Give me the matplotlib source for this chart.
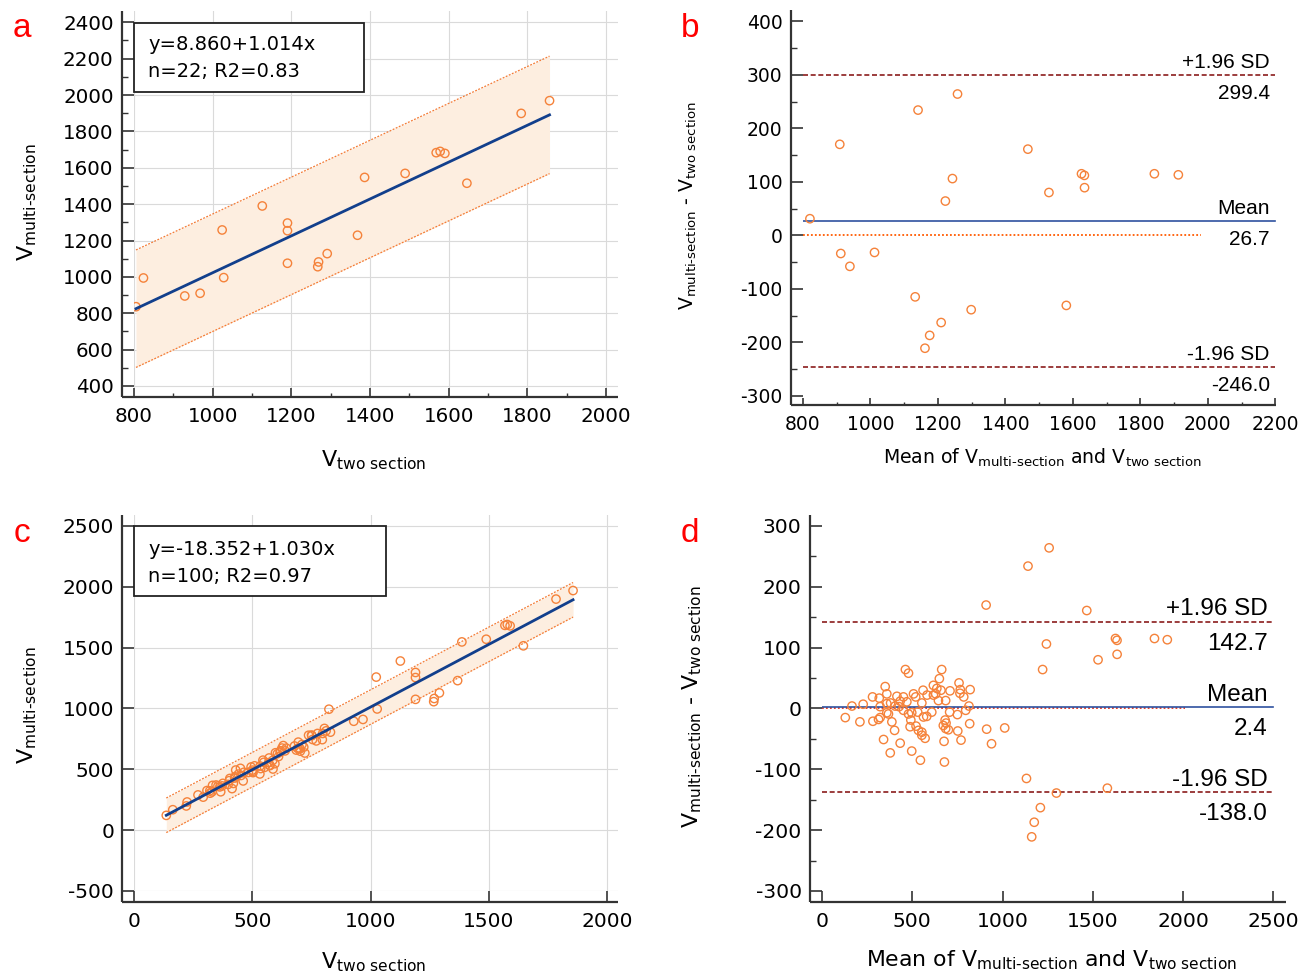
import numpy as np
import matplotlib
matplotlib.use("Agg")
import matplotlib.pyplot as plt
from matplotlib.patches import Rectangle
from matplotlib.lines import Line2D
from matplotlib.ticker import MultipleLocator, NullLocator

plt.rcParams['font.family'] = ['DejaVu Sans']
plt.rcParams['mathtext.fontset'] = 'custom'
plt.rcParams['mathtext.rm'] = 'DejaVu Sans'
plt.rcParams['mathtext.it'] = 'DejaVu Sans:italic'
plt.rcParams['mathtext.bf'] = 'DejaVu Sans:bold'
plt.rcParams['axes.unicode_minus'] = False

# ---------------- data ----------------
# 22 paired measurements (panel a / b)
v_two_22 = [805, 824, 929, 968, 1024, 1028, 1126, 1190, 1190, 1190, 1267,
            1269, 1291, 1368, 1386, 1489, 1568, 1578, 1590, 1646, 1784, 1856]
v_multi_22 = [836, 994, 895, 910, 1258, 996, 1390, 1296, 1254, 1075, 1056,
              1082, 1128, 1229, 1547, 1569, 1683, 1690, 1679, 1515, 1899, 1969]

extra_mean = [462, 479, 663, 650, 350, 359, 280, 317, 228, 166,
              415, 451, 380, 433, 507, 519, 560, 582, 553, 617,
              630, 645, 659, 685, 709, 759, 766, 785,
              814, 796, 322, 129, 210, 282, 313, 322, 359, 387,
              402, 341, 378, 433, 451, 497, 492, 488, 521, 497,
              553, 571, 562, 580, 545, 682, 672, 685, 700, 676,
              678, 750, 707, 752, 770, 818,
              636, 764, 617, 687, 534, 553, 368, 359, 427, 479,
              405, 470, 530, 608]
extra_diff = [64, 58, 64, 49, 36, 24, 19, 17, 7, 4,
              20, 19, 9, 12, 24, 19, 30, 22, 9, 38,
              24, 13, 30, 13, 29, 42, 31, 19,
              4, -3, 3, -15, -22, -21, -18, -15, -7, -22,
              -36, -51, -73, -57, -3, -7, -19, -30, -29, -70,
              -39, -49, -14, -13, -85, -19, -28, -33, -35, -54,
              -88, -10, -6, -37, -52, -25,
              33, 25, 22, -24, -36, -44, -9, 8, 3, -9,
              4, 11, -6, -6]

# regression results
fit_a = [8.860, 1.014]
fit_c = [-18.352, 1.030]
band_a = 323
band_c = 142
text_a = ["y=8.860+1.014x", "n=22; R2=0.83"]
text_c = ["y=-18.352+1.030x", "n=100; R2=0.97"]

# Bland-Altman limits: mean, +1.96SD, -1.96SD
ba_b = [26.7, 299.4, -246.0]
ba_d = [2.4, 142.7, -138.0]
zero_end_b = 1980
zero_end_d = 2010

# ---------------- derived ----------------
v_two_22 = np.array(v_two_22, float)
v_multi_22 = np.array(v_multi_22, float)
em = np.array(extra_mean, float)
ed = np.array(extra_diff, float)
v_two_100 = np.concatenate([v_two_22, em - ed / 2])
v_multi_100 = np.concatenate([v_multi_22, em + ed / 2])

# ---------------- style ----------------
W, H = 1309, 977
fig = plt.figure(figsize=(W / 100, H / 100), dpi=100)

C_PT = '#F5823A'
C_FIT = '#123F8C'
C_BAND = '#FDEEE0'
C_BANDL = '#F47B35'
C_SD = '#8B1C1C'
C_MEAN = '#2F52A0'
C_AX = '#333333'
ARIAL = ['Liberation Sans', 'DejaVu Sans']


def fx(x):
    return x / W


def fy(y):
    return 1 - y / H


def add_ax(l, r, t, b):
    return fig.add_axes([l / W, 1 - b / H, (r - l) / W, (b - t) / H])


def style(ax, xlim, ylim, xmaj, ymaj, xmin, ymin, offl, offb, lsize,
          box, grid):
    ax.set_xlim(xlim)
    ax.set_ylim(ylim)
    for s in ax.spines.values():
        s.set_visible(False)
    ax.spines['left'].set_position(('outward', offl * 0.72))
    ax.spines['bottom'].set_position(('outward', offb * 0.72))
    ax.xaxis.set_major_locator(MultipleLocator(xmaj))
    ax.yaxis.set_major_locator(MultipleLocator(ymaj))
    ax.xaxis.set_minor_locator(MultipleLocator(xmin) if xmin else NullLocator())
    ax.yaxis.set_minor_locator(MultipleLocator(ymin) if ymin else NullLocator())
    ax.tick_params(axis='y', which='major', direction='in', length=offl * 0.72,
                   width=1.2, color=C_AX, labelsize=lsize, pad=6)
    ax.tick_params(axis='y', which='minor', direction='in', length=offl * 0.36,
                   width=1.0, color=C_AX)
    ax.tick_params(axis='x', which='major', direction='in', length=offb * 0.72,
                   width=1.2, color=C_AX, labelsize=lsize, pad=7)
    ax.tick_params(axis='x', which='minor', direction='in', length=offb * 0.36,
                   width=1.0, color=C_AX)
    if grid:
        ax.grid(True, which='major', color='#DADADA', lw=0.8)
        ax.set_axisbelow(True)
    # manual spines (corner joined)
    l, r, t, b = box
    fig.add_artist(Line2D([fx(l - offl), fx(l - offl)], [fy(t), fy(b + offb)],
                          color=C_AX, lw=1.6, solid_capstyle='butt'))
    fig.add_artist(Line2D([fx(l - offl), fx(r)], [fy(b + offb), fy(b + offb)],
                          color=C_AX, lw=1.6, solid_capstyle='butt'))


def reg_panel(ax, x, y, fit, hw):
    xs = np.array([x.min(), x.max()])
    ys = fit[0] + fit[1] * xs
    ax.fill_between(xs, ys - hw, ys + hw, color=C_BAND, lw=0, zorder=1)
    ax.plot(xs, ys + hw, ls=(0, (1.5, 1.2)), color=C_BANDL, lw=0.9, zorder=2)
    ax.plot(xs, ys - hw, ls=(0, (1.5, 1.2)), color=C_BANDL, lw=0.9, zorder=2)
    ax.scatter(x, y, s=36, facecolors='none', edgecolors=C_PT, linewidths=1.0,
               zorder=3)
    ax.plot(xs, ys, color=C_FIT, lw=2.0, zorder=4)


def text_box(l, r, t, b, lines, baselines):
    fig.add_artist(Rectangle((fx(l), fy(b)), (r - l) / W, (b - t) / H,
                             transform=fig.transFigure, facecolor='white',
                             edgecolor='#222222', lw=1.3, zorder=10))
    for s, yb in zip(lines, baselines):
        fig.text(fx(148), fy(yb), s, fontsize=14, va='baseline', ha='left',
                 zorder=11)


def ba_panel(ax, mean, diff, lims, xr, zero_end, zero_col, fs, gap_above,
             gap_below):
    ax.plot([xr[0], zero_end], [0, 0], ls=(0, (1, 1.2)), color=zero_col,
            lw=1.3, zorder=1)
    ax.plot(xr, [lims[0], lims[0]], color=C_MEAN, lw=1.2, zorder=2)
    ax.plot(xr, [lims[1], lims[1]], ls=(0, (3, 1.6)), color=C_SD, lw=1.2,
            zorder=2)
    ax.plot(xr, [lims[2], lims[2]], ls=(0, (3, 1.6)), color=C_SD, lw=1.2,
            zorder=2)
    ax.scatter(mean, diff, s=36, facecolors='none', edgecolors=C_PT,
               linewidths=1.0, zorder=3)
    labels = [("Mean", lims[0]), ("+1.96 SD", lims[1]), ("-1.96 SD", lims[2])]
    for lab, v in labels:
        ax.annotate(lab, xy=(xr[1], v), xytext=(-4, gap_above * 0.72),
                    textcoords='offset points', ha='right', va='baseline',
                    fontsize=fs, family=ARIAL)
        ax.annotate("%.1f" % v, xy=(xr[1], v), xytext=(-4, -gap_below * 0.72),
                    textcoords='offset points', ha='right', va='top',
                    fontsize=fs, family=ARIAL)


# ---------------- panel a ----------------
axA = add_ax(134, 618, 11, 388)
reg_panel(axA, v_two_22, v_multi_22, fit_a, band_a)
style(axA, (800, 2030), (389, 2462), 200, 200, 100, 100, 12, 9, 14.3,
      (134, 618, 11, 388), True)
text_box(134, 364, 23, 92, text_a, [50, 77])

# ---------------- panel b ----------------
axB = add_ax(803, 1276, 10, 398)
mb = (v_two_22 + v_multi_22) / 2
db = v_multi_22 - v_two_22
ba_panel(axB, mb, db, ba_b, (800, 2200), zero_end_b, '#FF5A00', 15, 7, 9)
style(axB, (800, 2202), (-304, 421), 200, 100, 100, 50, 12, 7, 13.5,
      (803, 1276, 10, 398), False)

# ---------------- panel c ----------------
axC = add_ax(134, 618, 515, 891)
reg_panel(axC, v_two_100, v_multi_100, fit_c, band_c)
style(axC, (0, 2046), (-500, 2590), 500, 500, None, None, 11.6, 11, 14.5,
      (134, 618, 515, 891), True)
text_box(134, 386, 526, 596, text_c, [555, 582])

# ---------------- panel d ----------------
axD = add_ax(822, 1286, 515, 891)
md = (v_two_100 + v_multi_100) / 2
dd = v_multi_100 - v_two_100
ba_panel(axD, md, dd, ba_d, (0, 2500), zero_end_d, '#E0301E', 17.5, 6.5, 11)
style(axD, (0, 2570), (-300, 318), 500, 100, None, 50, 12, 11, 14.6,
      (822, 1286, 515, 891), False)

# ---------------- labels ----------------
sub_m = r"V$_\text{multi-section}$"
sub_t = r"V$_\text{two section}$"
fig.text(fx(27), fy(202), sub_m, rotation=90, fontsize=16, ha='center',
         va='center')
fig.text(fx(374), fy(460), sub_t, fontsize=16, ha='center', va='center')
fig.text(fx(27), fy(705), sub_m, rotation=90, fontsize=16, ha='center',
         va='center')
fig.text(fx(374), fy(962), sub_t, fontsize=16, ha='center', va='center')

fig.text(fx(688), fy(206), sub_m + " - " + sub_t, rotation=90, fontsize=13.6,
         ha='center', va='center')
fig.text(fx(1042), fy(458), "Mean of " + sub_m + " and " + sub_t,
         fontsize=13.6, ha='center', va='center')
fig.text(fx(692), fy(707), sub_m + " - " + sub_t, rotation=90, fontsize=15.8,
         ha='center', va='center')
fig.text(fx(1052), fy(960), "Mean of " + sub_m + " and " + sub_t,
         fontsize=15.8, ha='center', va='center')

for lab, x, y in [("a", 22, 37), ("b", 690, 37), ("c", 22, 542), ("d", 690, 542)]:
    fig.text(fx(x), fy(y), lab, color='#FF0000', fontsize=24, ha='center',
             va='baseline', family=ARIAL)

fig.savefig("out.png", dpi=100)
